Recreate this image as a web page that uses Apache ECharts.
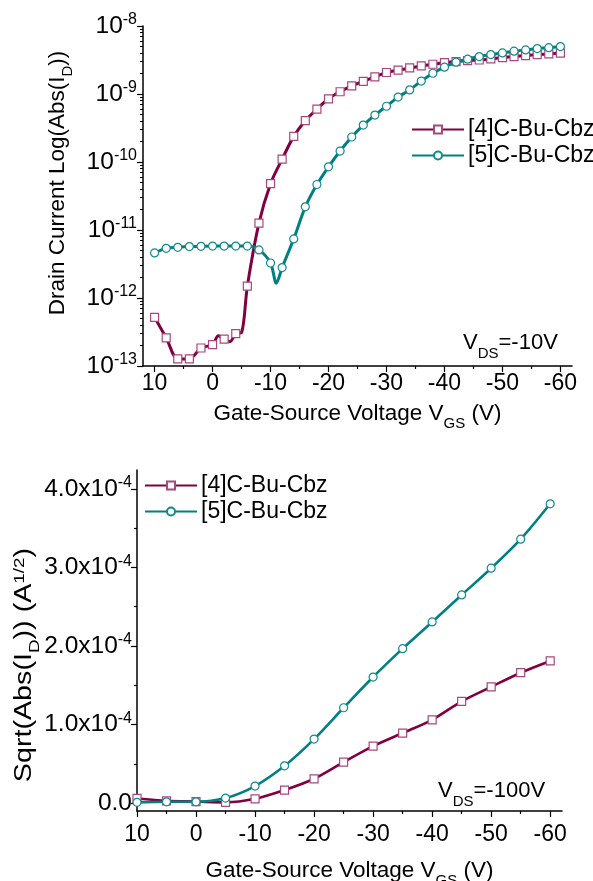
<!DOCTYPE html>
<html><head><meta charset="utf-8">
<script src="https://cdn.jsdelivr.net/npm/echarts@6/dist/echarts.min.js"></script>
<style>html,body{margin:0;padding:0;background:#fff}#c{width:593px;height:881px}</style>
</head><body><div id="c"></div>
<script>
const FONT = "'Liberation Sans', Arial, Helvetica, sans-serif";
const seriesNames = ['[4]C-Bu-Cbz', '[5]C-Bu-Cbz'];

// ---- top panel (log), V_DS = -10 V ----
const topVgs4 = [10, 8, 6, 4, 2, 0, -1, -2, -3, -4, -5, -6, -8, -10, -12, -14, -16, -18, -20, -22, -24, -26, -28, -30, -32, -34, -36, -38, -40, -42, -44, -46, -48, -50, -52, -54, -56, -58, -60];
const topId4 = [5.2e-13, 2.6e-13, 1.27e-13, 1.27e-13, 1.84e-13, 2.06e-13, 2.78e-13, 2.49e-13, 2.28e-13, 3.0e-13, 3.1e-13, 1.49e-12, 1.26e-11, 4.8e-11, 1.1e-10, 2.38e-10, 4.05e-10, 6.0e-10, 8.5e-10, 1.08e-9, 1.32e-9, 1.53e-9, 1.79e-9, 2.07e-9, 2.24e-9, 2.42e-9, 2.59e-9, 2.74e-9, 2.9e-9, 3.0e-9, 3.1e-9, 3.16e-9, 3.28e-9, 3.43e-9, 3.55e-9, 3.67e-9, 3.8e-9, 3.89e-9, 4.0e-9];
const topNoMarker4 = [-1, -3, -5];

const topVgs5 = [10, 8, 6, 4, 2, 0, -2, -4, -6, -8, -10, -11, -12, -14, -16, -18, -20, -22, -24, -26, -28, -30, -32, -34, -36, -38, -40, -42, -44, -46, -48, -50, -52, -54, -56, -58, -60];
const topId5 = [4.6e-12, 5.37e-12, 5.56e-12, 5.7e-12, 5.75e-12, 5.8e-12, 5.8e-12, 5.8e-12, 5.8e-12, 5.1e-12, 3.27e-12, 1.65e-12, 2.8e-12, 7.4e-12, 2.19e-11, 4.67e-11, 8.5e-11, 1.45e-10, 2.33e-10, 3.49e-10, 4.9e-10, 6.6e-10, 9.0e-10, 1.15e-9, 1.55e-9, 2.02e-9, 2.48e-9, 2.94e-9, 3.25e-9, 3.55e-9, 3.8e-9, 4.02e-9, 4.26e-9, 4.45e-9, 4.66e-9, 4.8e-9, 4.98e-9];
const topNoMarker5 = [-11];

// ---- bottom panel (sqrt), V_DS = -100 V ----
const botVgs = [10, 5, 0, -5, -10, -15, -20, -25, -30, -35, -40, -45, -50, -55, -60];
const botSqrt4 = [0.06e-4, 0.03e-4, 0.02e-4, 0.01e-4, 0.055e-4, 0.166e-4, 0.31e-4, 0.522e-4, 0.726e-4, 0.892e-4, 1.061e-4, 1.296e-4, 1.48e-4, 1.66e-4, 1.81e-4];
const botSqrt5 = [0.01e-4, 0.017e-4, 0.017e-4, 0.064e-4, 0.217e-4, 0.475e-4, 0.815e-4, 1.214e-4, 1.605e-4, 1.966e-4, 2.306e-4, 2.65e-4, 2.99e-4, 3.36e-4, 3.81e-4];

// ---- tick positions / labels ----
const xMajorTicks = [10, 0, -10, -20, -30, -40, -50, -60];
const xMinorTicks = [5, -5, -15, -25, -35, -45, -55];
const topDecades = [-13, -12, -11, -10, -9, -8];
const topMinorMultipliers = [2, 3, 4, 5, 6, 7, 8, 9];
const botYMajorTicks = [0, 1e-4, 2e-4, 3e-4, 4e-4];
const botYMinorTicks = [0.5e-4, 1.5e-4, 2.5e-4, 3.5e-4];

const topMinorLog = [];
topDecades.slice(0, -1).forEach(n => topMinorMultipliers.forEach(k => topMinorLog.push(n + Math.log10(k))));

const C4 = '#800040', C4m = '#a8487f', C5 = '#008080', C5m = '#138a8a';

function pairs(xs, ys, hidden) {
  return xs.map((x, i) => hidden && hidden.includes(x) ? { value: [x, ys[i]], symbol: 'none' } : [x, ys[i]]);
}

const txt = { fontFamily: FONT, color: '#000', fontWeight: 'normal' };
const nameRich = {
  n: Object.assign({ fontSize: 22.5, lineHeight: 27 }, txt),
  s: Object.assign({ fontSize: 15, lineHeight: 15, verticalAlign: 'bottom', padding: [0, 0, -4, 0] }, txt),
  p: Object.assign({ fontSize: 15, lineHeight: 15, verticalAlign: 'top' }, txt)
};
const sideNameRich = {
  n: Object.assign({ fontSize: 23.5, lineHeight: 27 }, txt),
  s: Object.assign({ fontSize: 15.5, lineHeight: 15, verticalAlign: 'bottom', padding: [0, 0, -4, 0] }, txt),
  p: Object.assign({ fontSize: 15.5, lineHeight: 15, verticalAlign: 'top' }, txt)
};
const supRich = {
  b: Object.assign({ fontSize: 24.5, lineHeight: 28 }, txt),
  sup: Object.assign({ fontSize: 16, lineHeight: 16, verticalAlign: 'top' }, txt)
};
const vdsRich = {
  a: Object.assign({ fontSize: 22, lineHeight: 26 }, txt),
  s: Object.assign({ fontSize: 15, lineHeight: 15, verticalAlign: 'bottom', padding: [0, 0, -5, 0] }, txt)
};
const axisLine = { show: true, onZero: false, lineStyle: { color: '#000', width: 1.5 } };
const noLine = { show: false, onZero: false };
const tickStyle = { color: '#000', width: 1.2 };
const tickLabel = { fontSize: 23, fontFamily: FONT, color: '#000' };

const chart = echarts.init(document.getElementById('c'), null, { renderer: 'canvas' });
chart.setOption({
  backgroundColor: '#fff',
  animation: false,
  grid: [
    { left: 143, top: 26, width: 429, height: 340, containLabel: false, outerBoundsMode: 'none' },
    { left: 137, top: 470, width: 425, height: 341, containLabel: false, outerBoundsMode: 'none' }
  ],
  title: [
    { text: '{a|V}{s|DS}{a|=-10V}', left: 463, top: 330, padding: 0, textStyle: { fontWeight: 'normal', rich: vdsRich } },
    { text: '{a|V}{s|DS}{a|=-100V}', left: 438, top: 778, padding: 0, textStyle: { fontWeight: 'normal', rich: vdsRich } }
  ],
  graphic: [
    { type: 'text', x: 25, y: 665, rotation: Math.PI / 2, scaleX: 1.22, scaleY: 1,
      style: { text: '{n|Sqrt(Abs(I}{s|D}{n|)) (A}{p|1/2}{n|)}', rich: sideNameRich, align: 'center', verticalAlign: 'middle' } }
  ],
  legend: [
    { data: seriesNames, left: 406, top: 113, orient: 'vertical', itemWidth: 52, itemHeight: 10, itemGap: 3,
      textStyle: { fontSize: 23, fontFamily: FONT, color: '#000', padding: [0, 0, 0, -1] } },
    { data: seriesNames, left: 139, top: 469, orient: 'vertical', itemWidth: 52, itemHeight: 10, itemGap: 3,
      textStyle: { fontSize: 23, fontFamily: FONT, color: '#000', padding: [0, 0, 0, -1] } }
  ],
  xAxis: [
    { gridIndex: 0, type: 'value', min: -62, max: 12, inverse: true, position: 'bottom',
      axisLine, splitLine: { show: false },
      axisTick: { show: true, length: 6, lineStyle: tickStyle, customValues: xMajorTicks },
      axisLabel: Object.assign({ customValues: xMajorTicks, margin: 6, formatter: v => String(v) }, tickLabel),
      name: '{n|Gate-Source Voltage V}{s|GS}{n| (V)}', nameLocation: 'middle', nameGap: 34,
      nameTextStyle: { rich: nameRich } },
    { gridIndex: 0, type: 'value', min: -62, max: 12, inverse: true, position: 'bottom',
      axisLine: noLine, splitLine: { show: false }, axisLabel: { show: false },
      axisTick: { show: true, length: 3, lineStyle: tickStyle, customValues: xMinorTicks } },
    { gridIndex: 1, type: 'value', min: -62, max: 10, inverse: true, position: 'bottom',
      axisLine, splitLine: { show: false },
      axisTick: { show: true, length: 6, lineStyle: tickStyle, customValues: xMajorTicks },
      axisLabel: Object.assign({ customValues: xMajorTicks, margin: 12, formatter: v => String(v) }, tickLabel),
      name: '{n|Gate-Source Voltage V}{s|GS}{n| (V)}', nameLocation: 'middle', nameGap: 46,
      nameTextStyle: { rich: nameRich } },
    { gridIndex: 1, type: 'value', min: -62, max: 10, inverse: true, position: 'bottom',
      axisLine: noLine, splitLine: { show: false }, axisLabel: { show: false },
      axisTick: { show: true, length: 3, lineStyle: tickStyle, customValues: xMinorTicks } }
  ],
  yAxis: [
    { gridIndex: 0, type: 'log', min: 1e-13, max: 1e-8, show: false },
    { gridIndex: 0, type: 'value', min: -13, max: -8, interval: 1, position: 'left',
      axisLine, splitLine: { show: false },
      axisTick: { show: true, length: 6, lineStyle: tickStyle },
      axisLabel: { margin: 6, formatter: v => '{b|10}{sup|' + v + '}', rich: supRich },
      name: '{n|Drain Current Log(Abs(I}{s|D}{n|))}', nameLocation: 'middle', nameGap: 72, nameRotate: 90,
      nameTextStyle: { rich: nameRich, padding: [0, 0, 0, 26] } },
    { gridIndex: 0, type: 'value', min: -13, max: -8, position: 'left',
      axisLine: noLine, splitLine: { show: false }, axisLabel: { show: false },
      axisTick: { show: true, length: 3, lineStyle: { color: '#000', width: 1 }, customValues: topMinorLog } },
    { gridIndex: 1, type: 'value', min: -0.1e-4, max: 4.24e-4, position: 'left',
      axisLine, splitLine: { show: false },
      axisTick: { show: true, length: 6, lineStyle: tickStyle, customValues: botYMajorTicks },
      axisLabel: { customValues: botYMajorTicks, margin: 5, rich: supRich,
        formatter: v => Math.abs(v) < 1e-12 ? '{b|0.0}' : '{b|' + (v * 1e4).toFixed(1) + 'x10}{sup|-4}' } },
    { gridIndex: 1, type: 'value', min: -0.1e-4, max: 4.24e-4, position: 'left',
      axisLine: noLine, splitLine: { show: false }, axisLabel: { show: false },
      axisTick: { show: true, length: 3, lineStyle: tickStyle, customValues: botYMinorTicks } }
  ],
  series: [
    { name: seriesNames[0], type: 'line', xAxisIndex: 0, yAxisIndex: 0, smooth: 0.3,
      data: pairs(topVgs4, topId4, topNoMarker4), symbol: 'rect', symbolSize: 8,
      lineStyle: { color: C4, width: 3 }, itemStyle: { color: '#fff', borderColor: C4m, borderWidth: 1.2 }, z: 2 },
    { name: seriesNames[1], type: 'line', xAxisIndex: 0, yAxisIndex: 0, smooth: 0.3,
      data: pairs(topVgs5, topId5, topNoMarker5), symbol: 'circle', symbolSize: 8,
      lineStyle: { color: C5, width: 3 }, itemStyle: { color: '#fff', borderColor: C5m, borderWidth: 1.2 }, z: 3 },
    { name: seriesNames[0], type: 'line', xAxisIndex: 2, yAxisIndex: 3, smooth: 0.3,
      data: pairs(botVgs, botSqrt4), symbol: 'rect', symbolSize: 8,
      lineStyle: { color: C4, width: 2.6 }, itemStyle: { color: '#fff', borderColor: C4m, borderWidth: 1.2 }, z: 2 },
    { name: seriesNames[1], type: 'line', xAxisIndex: 2, yAxisIndex: 3, smooth: 0.3,
      data: pairs(botVgs, botSqrt5), symbol: 'circle', symbolSize: 8,
      lineStyle: { color: C5, width: 2.6 }, itemStyle: { color: '#fff', borderColor: C5m, borderWidth: 1.2 }, z: 3 }
  ]
});
</script></body></html>
